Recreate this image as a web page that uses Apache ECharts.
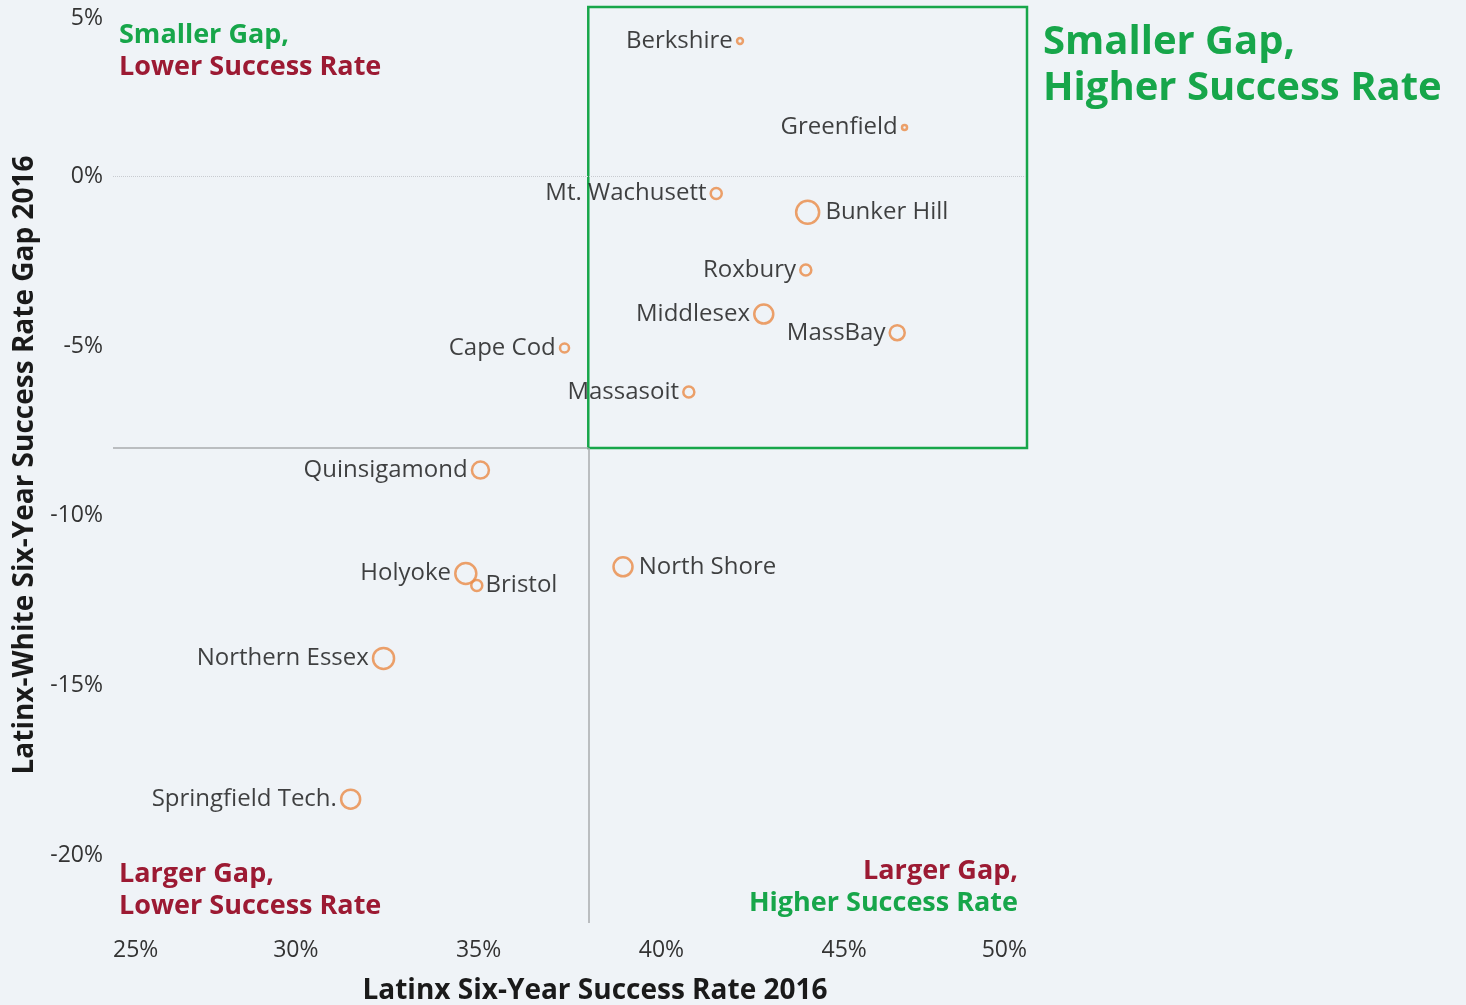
<!DOCTYPE html>
<html>
<head>
<meta charset="utf-8">
<script src="https://cdn.jsdelivr.net/npm/echarts@6/dist/echarts.min.js"></script>
<style>
html,body{margin:0;padding:0;background:#eff3f7;}
#chart{width:1466px;height:1005px;}
</style>
</head>
<body>
<div id="chart"></div>
<script>
// ---- data ----
const colleges = ['Berkshire','Greenfield','Mt. Wachusett','Bunker Hill','Roxbury','Middlesex','MassBay','Cape Cod','Massasoit','Quinsigamond','North Shore','Holyoke','Bristol','Northern Essex','Springfield Tech.'];
const successRate = [42.15, 46.65, 41.5, 44.0, 43.95, 42.8, 46.45, 37.35, 40.75, 35.05, 38.95, 34.65, 34.95, 32.4, 31.5];
const gap = [4.0, 1.45, -0.5, -1.05, -2.75, -4.05, -4.6, -5.05, -6.35, -8.65, -11.5, -11.7, -12.05, -14.2, -18.35];
const cohort = [6, 4, 25, 121, 25, 81, 49, 16, 25, 64, 81, 100, 25, 100, 81];
const labelSide = ['left','left','left','right','left','left','left','left','left','left','right','left','bottomRight','left','left'];
const xTicks = [25, 30, 35, 40, 45, 50];
const yTicks = [5, 0, -5, -10, -15, -20];
const rateThreshold = 38;
const gapThreshold = -8;

// ---- styles ----
const GREEN = '#17a64a';
const RED = '#9c1a33';
const ORANGE = '#ea8a45';
const FONT = '"Open Sans", "Noto Sans", sans-serif';

const points = colleges.map((name, i) => {
  const side = labelSide[i];
  let label;
  if (side === 'bottomRight') {
    label = {position: 'right', distance: 2, offset: [0, 9]};
  } else {
    label = {position: side, distance: side === 'right' ? 5 : 3};
  }
  return {name: name, value: [successRate[i], gap[i], cohort[i]], label: label};
});

const chart = echarts.init(document.getElementById('chart'), null, {renderer: 'canvas'});
chart.setOption({
  backgroundColor: '#eff3f7',
  animation: false,
  textStyle: {fontFamily: FONT},
  grid: {left: 113, right: 439, top: 7, bottom: 82, outerBoundsMode: 'none', containLabel: false},
  xAxis: {
    type: 'value', min: 25, max: 50, interval: 5,
    name: 'Latinx Six-Year Success Rate 2016',
    nameLocation: 'middle', nameGap: 54,
    nameTextStyle: {fontFamily: FONT, fontWeight: 'bold', fontSize: 28, color: '#1a1a1a', padding: [0, 0, 0, 50]},
    axisLine: {show: false}, axisTick: {show: false}, splitLine: {show: false},
    axisLabel: {
      fontFamily: FONT, fontSize: 23, color: '#333', margin: 16,
      alignMinLabel: 'left', alignMaxLabel: 'right',
      formatter: v => xTicks.indexOf(v) >= 0 ? v + '%' : ''
    }
  },
  yAxis: {
    type: 'value', min: -22, max: 5,
    name: 'Latinx-White Six-Year Success Rate Gap 2016',
    nameLocation: 'middle', nameGap: 72, nameRotate: 90,
    nameTextStyle: {fontFamily: FONT, fontWeight: 'bold', fontSize: 28, color: '#1a1a1a'},
    axisLine: {show: false}, axisTick: {show: false}, splitLine: {show: false},
    axisLabel: {
      fontFamily: FONT, fontSize: 23, color: '#333', margin: 10,
      showMinLabel: false, verticalAlignMaxLabel: 'top',
      formatter: v => yTicks.indexOf(v) >= 0 ? v + '%' : ''
    }
  },
  series: [{
    type: 'scatter',
    data: points,
    symbol: 'circle',
    symbolSize: d => 2 * Math.sqrt(d[2]) + 1,
    itemStyle: {color: 'rgba(0,0,0,0)', borderColor: ORANGE, borderWidth: 2.5},
    label: {show: true, formatter: p => p.name, fontFamily: FONT, fontSize: 24, color: '#111'},
    labelLayout: {hideOverlap: false},
    z: 5,
    markLine: {
      silent: true, symbol: 'none', label: {show: false},
      data: [
        [{coord: [25, 0], lineStyle: {color: '#c8cbd0', width: 1, type: 'dotted'}}, {coord: [50, 0]}],
        [{coord: [rateThreshold, -22], lineStyle: {color: '#a9abae', width: 1.5, type: 'solid'}}, {coord: [rateThreshold, gapThreshold]}],
        [{coord: [25, gapThreshold], lineStyle: {color: '#a9abae', width: 1.5, type: 'solid'}}, {coord: [rateThreshold, gapThreshold]}]
      ]
    },
    markArea: {
      silent: true,
      itemStyle: {color: 'rgba(0,0,0,0)', borderColor: GREEN, borderWidth: 2.5},
      label: {show: false},
      data: [[{coord: [rateThreshold, gapThreshold]}, {coord: [50, 5]}]]
    }
  }],
  graphic: [
    {type: 'text', left: 119, top: 22, style: {
      text: '{g|Smaller Gap,}\n{r|Lower Success Rate}',
      rich: {
        g: {fill: GREEN, fontFamily: FONT, fontWeight: 'bold', fontSize: 27, lineHeight: 32},
        r: {fill: RED, fontFamily: FONT, fontWeight: 'bold', fontSize: 27, lineHeight: 32}
      }}},
    {type: 'text', left: 1043, top: 20, style: {
      text: 'Smaller Gap,\nHigher Success Rate',
      fill: GREEN, fontFamily: FONT, fontWeight: 'bold', fontSize: 40, lineHeight: 46}},
    {type: 'text', left: 119, top: 858, style: {
      text: 'Larger Gap,\nLower Success Rate',
      fill: RED, fontFamily: FONT, fontWeight: 'bold', fontSize: 27, lineHeight: 32}},
    {type: 'text', right: 448, top: 858, style: {
      text: '{r|Larger Gap,}\n{g|Higher Success Rate}', align: 'right',
      rich: {
        g: {fill: GREEN, fontFamily: FONT, fontWeight: 'bold', fontSize: 27, lineHeight: 32, align: 'right'},
        r: {fill: RED, fontFamily: FONT, fontWeight: 'bold', fontSize: 27, lineHeight: 32, align: 'right'}
      }}}
  ]
});
</script>
</body>
</html>
